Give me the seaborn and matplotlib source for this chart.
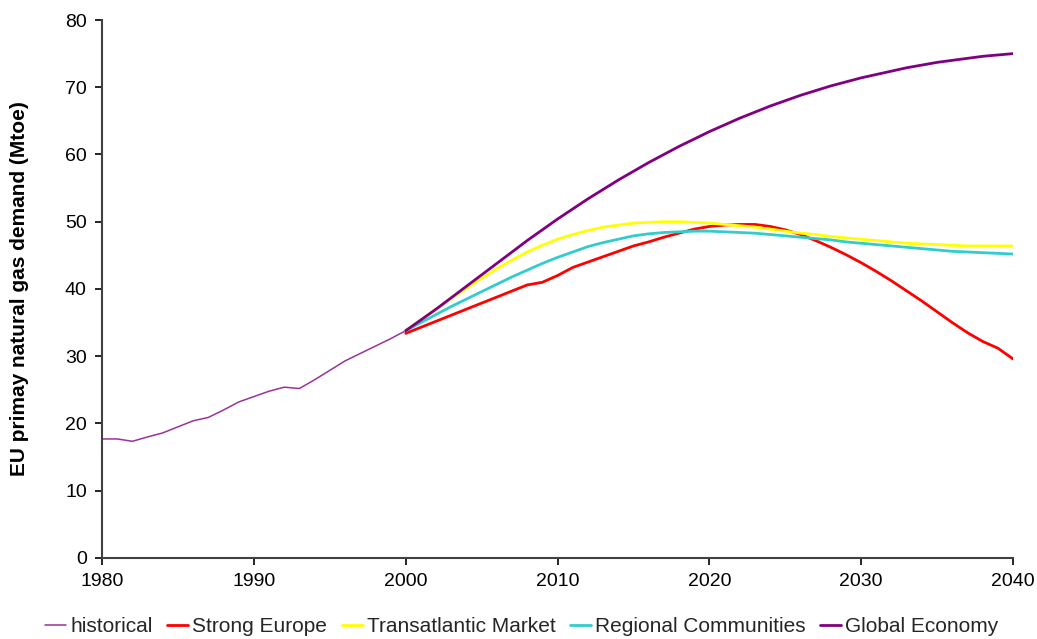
import numpy as np
import pandas as pd
import matplotlib
matplotlib.use("Agg")
import matplotlib.pyplot as plt
import seaborn as sns

hist_years = list(range(1980, 2001))
historical = [17.7, 17.7, 17.35, 18.0, 18.6, 19.5, 20.4, 20.9, 22.0, 23.2, 24.0,
              24.8, 25.4, 25.2, 26.5, 27.9, 29.3, 30.4, 31.5, 32.6, 33.8]

scen_years = list(range(2000, 2041))
strong_europe = [33.4, 34.3, 35.2, 36.1, 37.0, 37.9, 38.8, 39.7, 40.6, 41.0, 42.0,
                 43.2, 44.0, 44.8, 45.6, 46.4, 47.0, 47.7, 48.3, 48.9, 49.3,
                 49.5, 49.6, 49.6, 49.3, 48.8, 48.1, 47.2, 46.2, 45.1, 43.9,
                 42.6, 41.2, 39.7, 38.2, 36.6, 35.0, 33.5, 32.2, 31.2, 29.6]
transatlantic = [33.8, 35.4, 37.0, 38.6, 40.1, 41.6, 43.0, 44.3, 45.5, 46.5, 47.4,
                 48.1, 48.7, 49.2, 49.5, 49.8, 49.9, 50.0, 50.0, 49.9, 49.8,
                 49.6, 49.4, 49.2, 48.9, 48.6, 48.3, 48.1, 47.8, 47.6, 47.4,
                 47.2, 47.0, 46.8, 46.7, 46.6, 46.5, 46.4, 46.4, 46.4, 46.4]
regional = [33.8, 35.0, 36.2, 37.4, 38.5, 39.6, 40.7, 41.8, 42.8, 43.8, 44.7,
            45.5, 46.3, 46.9, 47.4, 47.9, 48.2, 48.4, 48.5, 48.6, 48.6,
            48.5, 48.4, 48.3, 48.1, 47.9, 47.7, 47.5, 47.3, 47.0, 46.8,
            46.6, 46.4, 46.2, 46.0, 45.8, 45.6, 45.5, 45.4, 45.3, 45.2]
global_economy = [33.8, 35.4, 37.0, 38.7, 40.4, 42.1, 43.8, 45.5, 47.2, 48.8, 50.4,
                  51.9, 53.4, 54.8, 56.2, 57.5, 58.8, 60.0, 61.2, 62.3, 63.4,
                  64.4, 65.4, 66.3, 67.2, 68.0, 68.8, 69.5, 70.2, 70.8, 71.4,
                  71.9, 72.4, 72.9, 73.3, 73.7, 74.0, 74.3, 74.6, 74.8, 75.0]

series_names = ["historical", "Strong Europe", "Transatlantic Market",
                "Regional Communities", "Global Economy"]
colors = ["#993399", "#FF0000", "#FFFF00", "#33CCCC", "#800080"]
widths = [1.1, 2.0, 2.0, 2.0, 2.0]

sns.set_theme(style="white")
plt.rcParams['font.family'] = ['Liberation Sans', 'DejaVu Sans']

fig = plt.figure(figsize=(10.37, 6.39), dpi=100)
ax = fig.add_axes([0.0984, 0.1268, 0.9769 - 0.0984, 0.9687 - 0.1268])

data = [(hist_years, historical), (scen_years, strong_europe),
        (scen_years, transatlantic), (scen_years, regional),
        (scen_years, global_economy)]
for (xs, ys), name, c, lw in zip(data, series_names, colors, widths):
    df = pd.DataFrame({"year": xs, "value": ys})
    sns.lineplot(data=df, x="year", y="value", ax=ax, color=c, linewidth=lw,
                 label=name)

ax.set_xlim(1980, 2040)
ax.set_ylim(0, 80)
ax.set_xticks(range(1980, 2041, 10))
ax.set_yticks(range(0, 81, 10))
ax.set_xlabel("")
ax.set_ylabel("EU primay natural gas demand (Mtoe)", fontsize=15, fontweight="bold",
              color="black", labelpad=26)
for s in ["top", "right"]:
    ax.spines[s].set_visible(False)
for s in ["left", "bottom"]:
    ax.spines[s].set_color("#404040")
    ax.spines[s].set_linewidth(1.5)
ax.tick_params(axis="both", direction="out", length=5, width=1.2, color="black",
               labelsize=14, labelcolor="black", left=True, bottom=True, pad=6)
ax.grid(False)

ax.legend(loc="center", bbox_to_anchor=(0.461, -0.128), ncol=5, frameon=False,
          fontsize=15, handlelength=1.0, handletextpad=0.2, columnspacing=0.7,
          borderpad=0.1)

fig.savefig("out.png", dpi=100)
